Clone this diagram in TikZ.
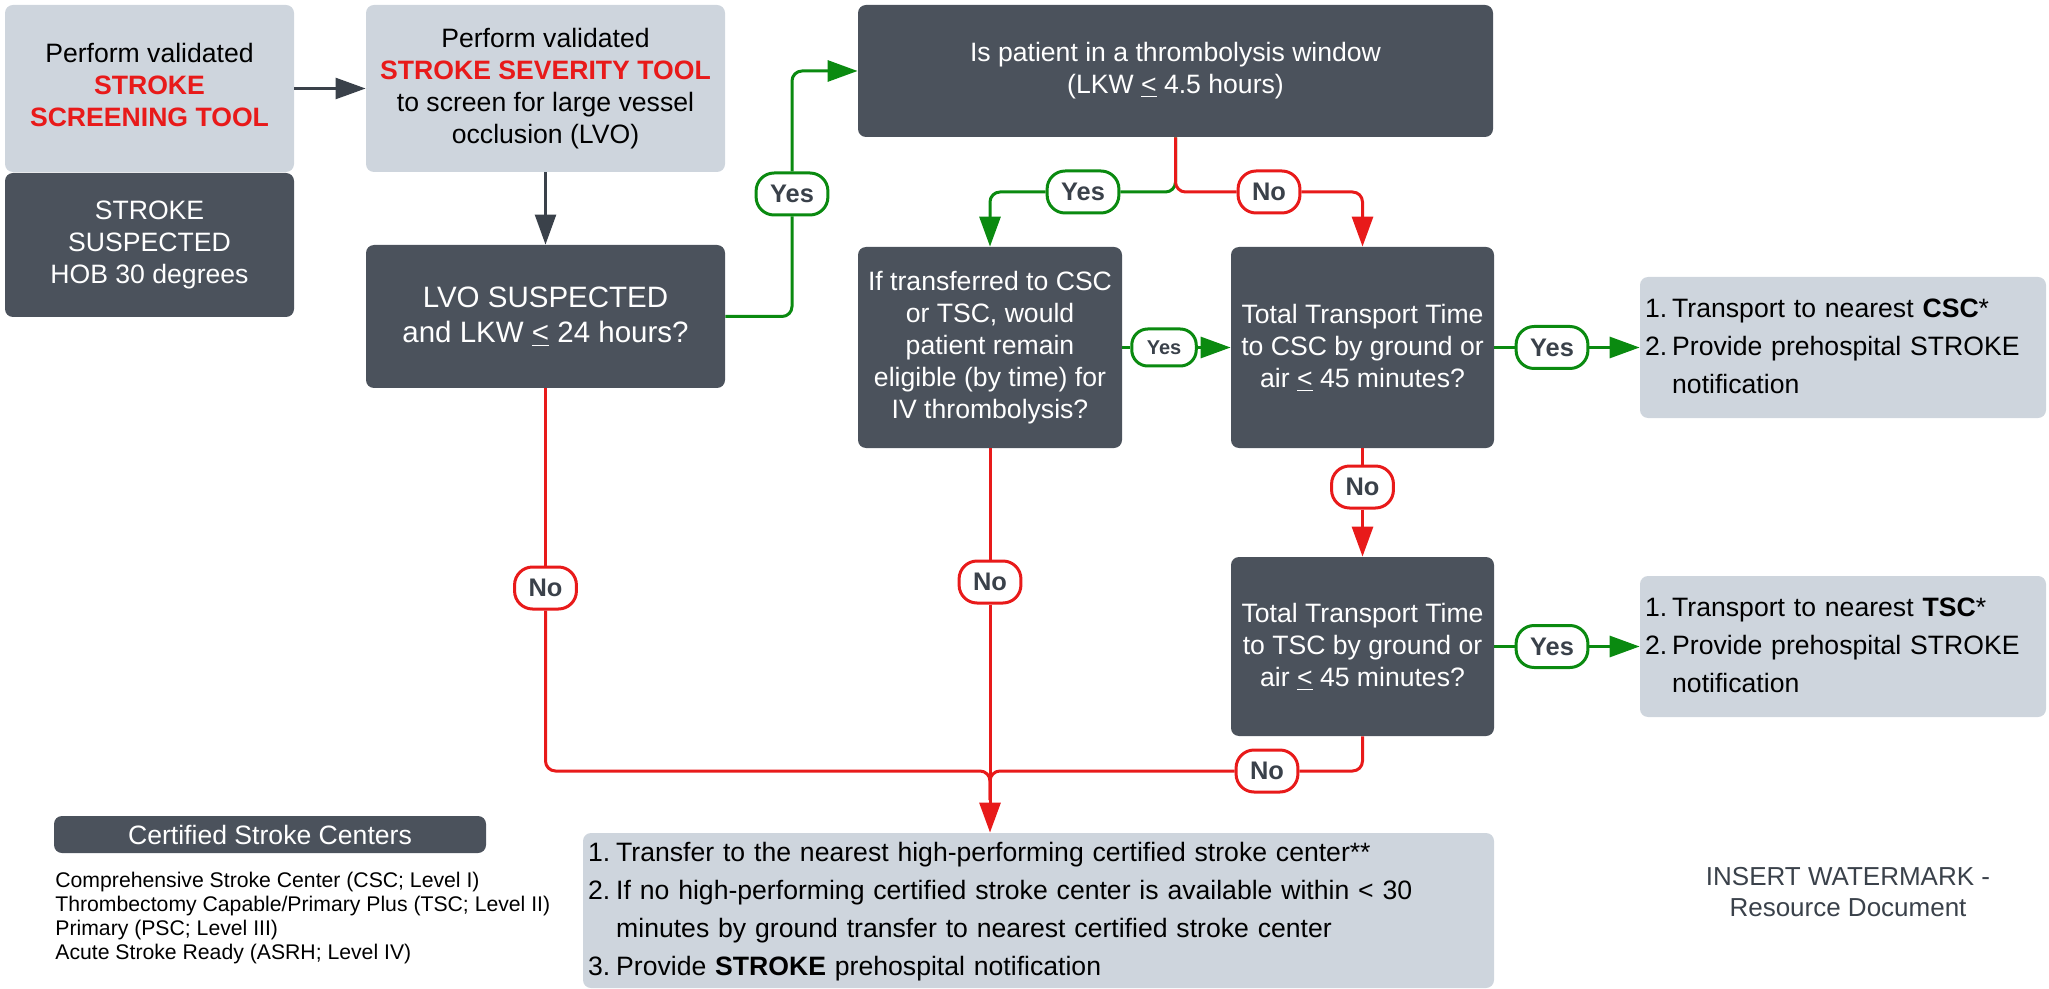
\documentclass[tikz,border=0pt]{standalone}
\usepackage{fontspec}
\setmainfont{Liberation Sans}
\usetikzlibrary{arrows.meta}

\definecolor{boxdark}{HTML}{4B525C}
\definecolor{boxlight}{HTML}{CED5DD}
\definecolor{flowred}{HTML}{E81A1A}
\definecolor{flowgreen}{HTML}{0A8A10}
\definecolor{ink}{HTML}{3A414A}

\newcommand{\alert}[1]{\textcolor{flowred}{\textbf{#1}}}
\newcommand{\leqsign}{\underline{<}}

\tikzset{
  boxbase/.style={rounded corners=4pt, align=center, inner sep=0pt},
  darkbox/.style={boxbase, fill=boxdark, text=white, font=\fontsize{13.3}{16}\selectfont},
  lightbox/.style={boxbase, fill=boxlight, text=black, font=\fontsize{13.3}{16}\selectfont},
  listbox/.style={boxbase, fill=boxlight, text=black, align=left, inner xsep=2.5pt,
    font=\fontsize{13.3}{19}\selectfont},
  pill/.style={draw, line width=1.5pt, fill=white, rounded corners=9pt, text=ink,
    font=\bfseries\fontsize{12.7}{14}\selectfont, minimum height=21pt,
    inner xsep=7pt, inner ysep=0pt},
  smallpill/.style={pill, font=\bfseries\fontsize{10}{12}\selectfont,
    minimum height=18.5pt, inner xsep=7.5pt, rounded corners=8pt},
  yespill/.style={pill, draw=flowgreen},
  nopill/.style={pill, draw=flowred},
  tip/.style={-{Triangle[length=15pt,width=10.5pt]}},
  gline/.style={draw=flowgreen, line width=1.5pt, rounded corners=5pt},
  rline/.style={draw=flowred, line width=1.5pt, rounded corners=5pt},
  dline/.style={draw=ink, line width=1.25pt},
  garrow/.style={gline, tip},
  rarrow/.style={rline, tip},
  darrow/.style={dline, tip},
}

\begin{document}
\begin{tikzpicture}[x=0.5pt, y=-0.5pt]
\useasboundingbox (0,0) rectangle (2049,989);

% first column: screening and suspicion
\node[lightbox, minimum width=144.5pt, minimum height=83.5pt] (scr) at (149.5,88.5)
  {\raisebox{2.5pt}{\begin{tabular}{@{}c@{}}Perform validated\\\alert{STROKE}\\\alert{SCREENING TOOL}\end{tabular}}};
\node[darkbox, minimum width=144.5pt, minimum height=72pt] (sus) at (149.5,245)
  {STROKE\\SUSPECTED\\HOB 30 degrees};

% severity and LVO decision
\node[lightbox, minimum width=179.5pt, minimum height=83.5pt] (sev) at (545.5,88.5)
  {Perform validated\\\alert{STROKE SEVERITY TOOL}\\to screen for large vessel\\occlusion (LVO)};
\node[darkbox, minimum width=179.5pt, minimum height=71.5pt,
  font=\fontsize{14.75}{17.5}\selectfont] (lvo) at (545.5,316.5)
  {LVO SUSPECTED\\and LKW \leqsign{} 24 hours?};

% thrombolysis window and transport decisions
\node[darkbox, minimum width=317.5pt, minimum height=66pt] (thr) at (1175.5,71)
  {Is patient in a thrombolysis window\\(LKW \leqsign{} 4.5 hours)};
\node[darkbox, minimum width=132pt, minimum height=100.5pt] (trn) at (990,347.5)
  {If transferred to CSC\\or TSC, would\\patient remain\\eligible (by time) for\\IV thrombolysis?};
\node[darkbox, minimum width=131.5pt, minimum height=100.5pt] (csc) at (1362.5,347.5)
  {Total Transport Time\\to CSC by ground or\\air \leqsign{} 45 minutes?};
\node[darkbox, minimum width=131.5pt, minimum height=89.5pt] (tsc) at (1362.5,646.5)
  {Total Transport Time\\to TSC by ground or\\air \leqsign{} 45 minutes?};

% outcomes
\node[listbox, text width=198pt, minimum height=70.5pt] (r1) at (1843,347.5)
  {\begin{tabular}{@{}l@{\hspace{2.5pt}}l@{}}
   1. & Transport to nearest \textbf{CSC}*\\
   2. & Provide prehospital STROKE\\
      & notification
   \end{tabular}};
\node[listbox, text width=198pt, minimum height=70.5pt] (r2) at (1843,646.5)
  {\begin{tabular}{@{}l@{\hspace{2.5pt}}l@{}}
   1. & Transport to nearest \textbf{TSC}*\\
   2. & Provide prehospital STROKE\\
      & notification
   \end{tabular}};
\node[listbox, text width=450.5pt, minimum height=77.5pt] (bot) at (1038.5,910.5)
  {\begin{tabular}{@{}l@{\hspace{3pt}}l@{}}
   1. & Transfer to the nearest high-performing certified stroke center**\\
   2. & If no high-performing certified stroke center is available within < 30\\
      & minutes by ground transfer to nearest certified stroke center\\
   3. & Provide \textbf{STROKE} prehospital notification
   \end{tabular}};

% legend
\node[darkbox, minimum width=216pt, minimum height=18.5pt] (leg) at (270,834.5)
  {Certified Stroke Centers};
\node[anchor=west, align=left, inner sep=0pt, font=\fontsize{10.6}{12}\selectfont] (legtxt) at (55,918.5)
  {Comprehensive Stroke Center (CSC; Level I)\\
   Thrombectomy Capable/Primary Plus (TSC; Level II)\\
   Primary (PSC; Level III)\\
   Acute Stroke Ready (ASRH; Level IV)};

\node[align=center, text=ink, font=\fontsize{13}{15.5}\selectfont] (wm) at (1848,892.5)
  {INSERT WATERMARK -\\Resource Document};

% branch labels
\node[yespill] (p1) at (792,194) {Yes};
\node[yespill] (p2) at (1083,192) {Yes};
\node[nopill]  (p3) at (1269,192) {No};
\node[smallpill, draw=flowgreen] (p4) at (1164,347.5) {Yes};
\node[yespill] (p5) at (1552,347.5) {Yes};
\node[nopill]  (p6) at (1362.5,487) {No};
\node[yespill] (p7) at (1552,646.5) {Yes};
\node[nopill]  (p8) at (545.5,588) {No};
\node[nopill]  (p9) at (990,582) {No};
\node[nopill]  (p10) at (1267,771) {No};

\coordinate (jb) at (990,771);
\coordinate (jd) at (990,800);

% connectors
\draw[darrow] (scr.east) -- (sev.west);
\draw[darrow] (sev.south) -- (lvo.north);

\draw[gline] (lvo.east) -| (p1.south);
\draw[garrow] (p1.north) |- (thr.west);

\draw[gline] (thr.south) |- (p2.east);
\draw[rline] (thr.south) |- (p3.west);
\draw[garrow] (p2.west) -| (trn.north);
\draw[rarrow] (p3.east) -| (csc.north);

\draw[gline] (trn.east) -- (p4.west);
\draw[garrow] (p4.east) -- (csc.west);

\draw[gline] (csc.east) -- (p5.west);
\draw[garrow] (p5.east) -- (r1.west);

\draw[rline] (csc.south) -- (p6.north);
\draw[rarrow] (p6.south) -- (tsc.north);

\draw[gline] (tsc.east) -- (p7.west);
\draw[garrow] (p7.east) -- (r2.west);

\draw[rline] (lvo.south) -- (p8.north);
\draw[rline] (p8.south) |- (jb) -- (jd);

\draw[rline] (trn.south) -- (p9.north);
\draw[rarrow] (p9.south) -- (p9.south |- bot.north);

\draw[rline] (tsc.south) |- (p10.east);
\draw[rline] (p10.west) -| (jd);
\end{tikzpicture}
\end{document}
